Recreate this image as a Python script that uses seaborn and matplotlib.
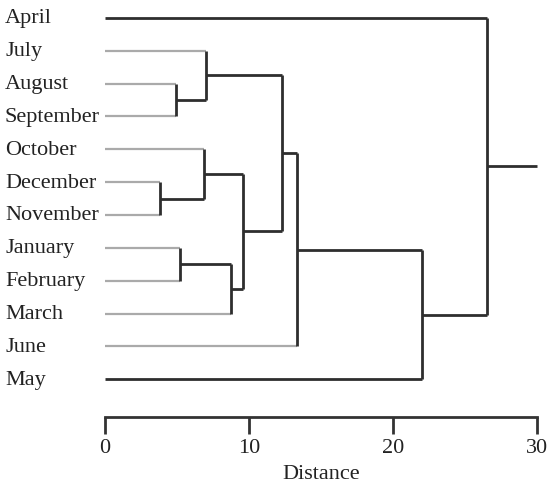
import numpy as np
import pandas as pd
import matplotlib
matplotlib.use("Agg")
import matplotlib.pyplot as plt
import matplotlib.transforms as mtransforms
import seaborn as sns

# ---- data ----
leaves = ["April", "July", "August", "September", "October", "December",
          "November", "January", "February", "March", "June", "May"]
# leaf lines drawn dark (True) or light grey (False)
leaf_dark = [True, False, False, False, False, False,
             False, False, False, False, False, True]
# merges: node ids 0..11 are leaves, new nodes numbered from 12
merge_left = [2, 1, 5, 4, 7, 9, 15, 13, 10, 11, 0]
merge_right = [3, 12, 6, 14, 8, 16, 17, 18, 19, 20, 21]
merge_dist = [4.9, 7.0, 3.8, 6.9, 5.2, 8.75, 9.6, 12.3, 13.3, 22.0, 26.5]
root_end = 30
xticks = [0, 10, 20, 30]
xlabel = "Distance"

# ---- build segments ----
n = len(leaves)
ypos = {i: float(i) for i in range(n)}
xpos = {i: 0.0 for i in range(n)}
segs = []  # (seg_id, x, y, kind)
sid = 0
def add(x0, y0, x1, y1, kind):
    global sid
    segs.append((sid, x0, y0, kind))
    segs.append((sid, x1, y1, kind))
    sid += 1

for k, (a, b, d) in enumerate(zip(merge_left, merge_right, merge_dist)):
    node = n + k
    for c in (a, b):
        kind = "dark"
        if c < n and not leaf_dark[c]:
            kind = "light"
        add(xpos[c], ypos[c], d, ypos[c], kind)
    add(d, ypos[a], d, ypos[b], "dark")
    ypos[node] = (ypos[a] + ypos[b]) / 2
    xpos[node] = d
root = n + len(merge_dist) - 1
add(xpos[root], ypos[root], root_end, ypos[root], "dark")

df = pd.DataFrame(segs, columns=["seg", "x", "y", "kind"])

# ---- plot ----
sns.set_theme(style="white")
plt.rcParams["font.family"] = ["Liberation Serif", "DejaVu Serif"]

fig = plt.figure(figsize=(5.5, 4.85), dpi=100)
ax = fig.add_axes([105 / 550, 67 / 485, 432 / 550, 410 / 485])

for kind, col, lw in [("light", "#aaaaaa", 1.6), ("dark", "#2e2e2e", 2.0)]:
    sub = df[df.kind == kind]
    sns.lineplot(data=sub, x="x", y="y", units="seg", estimator=None,
                 sort=False, color=col, lw=lw, ax=ax, legend=False)
for line in ax.lines:
    line.set_clip_on(False)
    line.set_solid_capstyle("butt")

ax.set_xlim(0, 30)
ax.set_ylim(12.15, -0.33)
ax.set_yticks([])
ax.set_ylabel("")
ax.set_xticks(xticks)
ax.set_xticklabels([str(t) for t in xticks], fontsize=16, color="#222222")
ax.set_xlabel(xlabel, fontsize=16, color="#222222", labelpad=5)
for s in ["top", "left", "right"]:
    ax.spines[s].set_visible(False)
ax.spines["bottom"].set_color("#333333")
ax.spines["bottom"].set_linewidth(2)
ax.tick_params(axis="x", direction="out", length=12, width=2,
               color="#333333", pad=3, bottom=True)

trans = mtransforms.blended_transform_factory(fig.transFigure, ax.transData)
for i, name in enumerate(leaves):
    ax.text(5 / 550, i, name, transform=trans, ha="left", va="center",
            fontsize=16, color="#222222")

fig.savefig("out.png", dpi=100)
